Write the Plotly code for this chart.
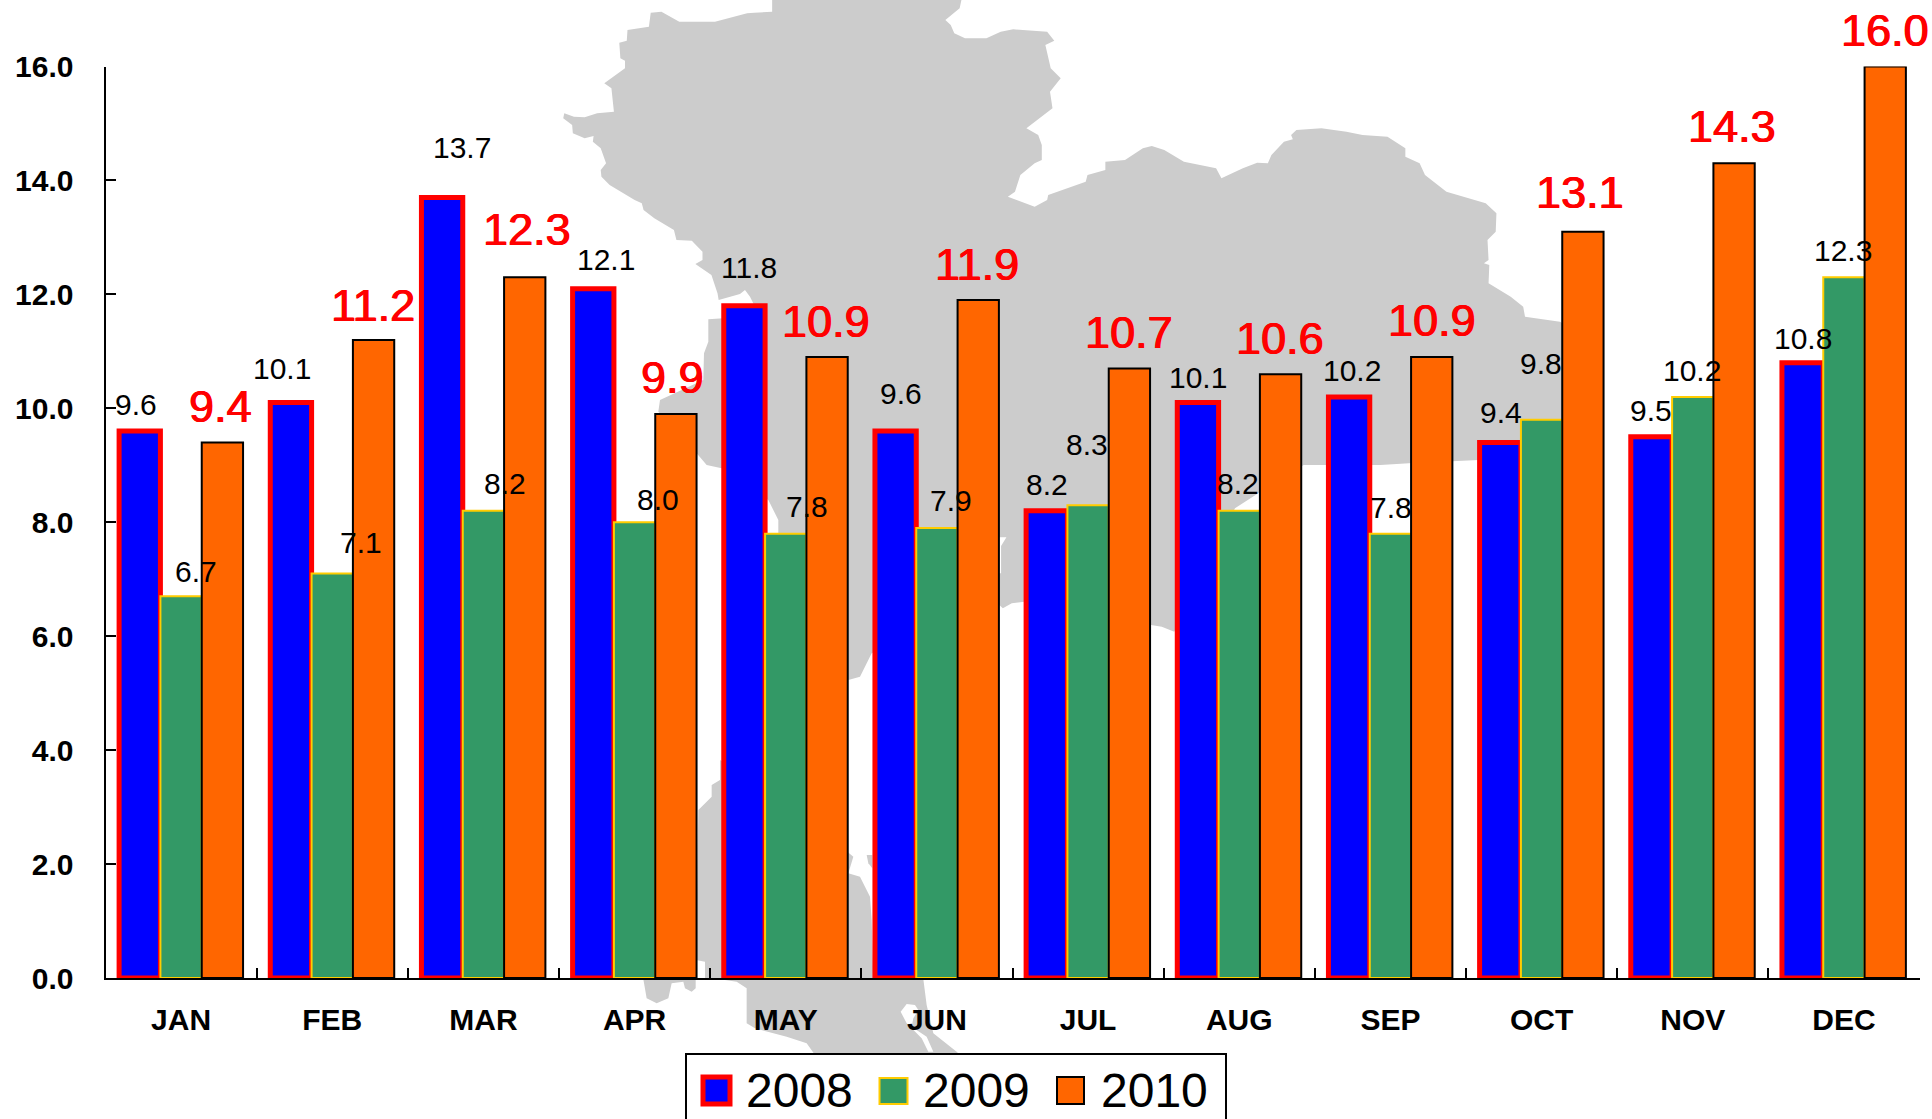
import plotly.graph_objects as go

W, H = 1932, 1119
AX_L, AX_R, AX_T, AX_B = 105.5, 1919.5, 66.5, 978.0

months = ["JAN", "FEB", "MAR", "APR", "MAY", "JUN", "JUL", "AUG", "SEP", "OCT", "NOV", "DEC"]
v2008 = [9.6, 10.1, 13.7, 12.1, 11.8, 9.6, 8.2, 10.1, 10.2, 9.4, 9.5, 10.8]
v2009 = [6.7, 7.1, 8.2, 8.0, 7.8, 7.9, 8.3, 8.2, 7.8, 9.8, 10.2, 12.3]
v2010 = [9.4, 11.2, 12.3, 9.9, 10.9, 11.9, 10.7, 10.6, 10.9, 13.1, 14.3, 16.0]
y_ticks = [0, 2, 4, 6, 8, 10, 12, 14, 16]

# Hand-placed data label centres, measured on the 1568-wide preview
lab2008_x = [110, 229, 375, 492, 608, 731, 850, 972, 1097, 1218, 1340, 1463]
lab2008_y = [328, 299, 120, 211, 217, 319, 393, 306, 301, 335, 333, 275]
lab2009_x = [159, 293, 410, 534, 655, 772, 882, 1005, 1129, 1251, 1373, 1496]
lab2009_y = [464, 440, 392, 405, 411, 406, 361, 392, 412, 295, 301, 203]
lab2010_x = [179, 303, 428, 546, 670, 793, 916, 1039, 1162, 1282, 1406, 1530]
lab2010_y = [330, 248, 186, 306, 261, 215, 270, 275, 260, 156, 103, 25]
PREVIEW = 1932 / 1568

# Background map outline pieces, in zoom-crop coordinates
west = [(650,0),(650,35),(600,38),(580,40),(490,65),(390,65),(340,35),(310,38),(305,80),(245,90),(243,122),(222,128),(225,175),(238,182),(238,205),(180,250),(200,265),(207,335),(160,340),(125,352),(95,350),(68,340),(65,355),(90,375),(92,400),(125,415),(150,408),(148,425),(170,445),(185,490),(170,510),(172,530),(195,555),(265,600),(285,610),(290,630),(320,655),(375,690),(382,720),(425,722),(455,755),(455,780),(435,792),(480,825),(497,880)]
gulf = [(236,60),(300,42),(315,30),(330,50),(345,80),(250,115),(205,118),(205,185),(192,220),(190,300),(60,360),(55,395),(170,520),(200,555),(245,565),(385,660),(415,720),(415,760),(625,1200),(660,1190),(695,1120)]
south1 = [(110,555),(120,565),(145,550),(180,545),(535,615),(565,620),(600,635),(770,265),(835,220)]
south2 = [(850,1095),(1065,1095),(1145,1090),(1340,1080)]
east_hidden = [(1565,425),(1562,323)]
north = [(1568,665),(1470,650),(1465,620),(1430,590),(1368,550),(1370,495),(1355,490),(1368,480),(1365,420),(1388,395),(1390,340),(1360,310),(1250,275),(1190,225),(1175,190),(1135,170),(1135,145),(1085,110),(1015,105),(970,95),(900,85),(830,90),(815,105),(820,118),(795,125),(760,165),(750,190),(720,188),(680,205),(620,235),(605,205),(515,185),(460,150),(425,138),(400,145),(350,180),(295,185),(295,210),(245,225),(240,245),(135,285)]
northeast = [(1420,600),(1385,620),(1310,590),(1330,575),(1345,525),(1385,490),(1405,480),(1405,435),(1395,405),(1362,385),(1435,325),(1428,275),(1458,235),(1430,205),(1415,135),(1440,122),(1420,95),(1325,88),(1290,95),(1250,115),(1190,115),(1160,100),(1150,75),(1135,60),(1175,25),(1180,0)]
isthmus = [(240,210),(240,270),(215,285),(215,320),(175,360),(168,810),(195,815),(195,865),(240,868),(290,875),(320,895),(320,1000),(345,1015),(440,1040),(500,1060),(525,1095),(960,1095),(950,1085),(880,1030),(860,945),(850,868),(700,868),(695,690),(690,620),(675,590),(660,560),(625,550),(640,500),(400,300)]
islet1 = [(10,868),(20,925),(50,940),(85,925),(95,880),(130,875),(135,895),(155,905),(167,895),(167,868)]
islet2 = [(680,495),(697,495),(697,535),(685,520)]
lake = [(782,965),(800,942),(825,945),(835,960),(820,985),(815,1010),(860,1040),(880,1085),(865,1085),(845,1045),(800,1000)]
cut = [(110,352),(130,352),(115,378),(115,460),(110,460)]


def crop(points, x0, y0, sx, sy=3.0):
    return [(x0 + a / sx, y0 + b / sy) for a, b in points]


Z4 = (540, 0, 2.8)
Z5 = (1000, 100, 2.8)
Z6 = (640, 280, 3.0)
Z7 = (640, 690, 3.0)
Z8 = (960, 420, 2.8)

main_outline = (crop(west, *Z4) + crop(gulf, *Z6) + crop(south1, *Z8) + crop(south2, *Z5)
                + east_hidden + crop(north, *Z5) + crop(northeast, *Z4))


def px_path(points):
    return "M" + "L".join(f"{x / W:.5f},{1 - y / H:.5f}" for x, y in points) + "Z"


def box(x0, y0, x1, y1, fill, line, width, layer="above"):
    return dict(type="rect", xref="paper", yref="paper", layer=layer,
                x0=x0 / W, x1=x1 / W, y0=1 - y1 / H, y1=1 - y0 / H,
                fillcolor=fill, line=dict(color=line, width=width))


def blob(points, fill="#CCCCCC"):
    return dict(type="path", xref="paper", yref="paper", layer="below",
                path=px_path(points), fillcolor=fill, line=dict(width=0))


GREY_SHAPES = [blob(main_outline), blob(crop(isthmus, *Z7)), blob(crop(islet1, *Z7)),
               blob(crop(islet2, *Z7)), blob(crop(lake, *Z7), "#FFFFFF"), blob(crop(cut, *Z8), "#FFFFFF")]

LEGEND_SHAPES = [
    box(686, 1054, 1226, 1140, "#FFFFFF", "#000000", 2),
    box(703, 1077, 730, 1104, "#0000FF", "#FF0000", 5),
    box(879.5, 1078, 907.5, 1104, "#339966", "#FFCC00", 2),
    box(1057, 1077, 1084, 1104, "#FF6600", "#000000", 2),
]

fig = go.Figure()
for name, vals, fill, edge, width in [
    ("2008", v2008, "#0000FF", "#FF0000", 5),
    ("2009", v2009, "#339966", "#FFCC00", 2),
    ("2010", v2010, "#FF6600", "#000000", 2),
]:
    fig.add_trace(go.Bar(name=name, x=months, y=vals, marker=dict(color=fill, line=dict(color=edge, width=width))))

cat_w = (AX_R - AX_L) / len(months)
y_px = lambda v: AX_B - (AX_B - AX_T) * v / 16
annotations = []
for vals, xs, ys, color, size, shadow in [
    (v2008, lab2008_x, lab2008_y, "#000000", 30, "none"),
    (v2009, lab2009_x, lab2009_y, "#000000", 30, "none"),
    (v2010, lab2010_x, lab2010_y, "#FF0000", 45, "0.6px 0 0 #FF0000, -0.6px 0 0 #FF0000"),
]:
    for i, v in enumerate(vals):
        cx = AX_L + (i + 0.5) * cat_w
        annotations.append(dict(
            x=months[i], y=v, xref="x", yref="y", text=f"{v:.1f}", showarrow=False,
            xanchor="center", yanchor="middle",
            xshift=xs[i] * PREVIEW - cx, yshift=y_px(v) - ys[i] * PREVIEW,
            font=dict(family="Liberation Sans", size=size, color=color, shadow=shadow)))
for label, cx in [("2008", 799), ("2009", 976), ("2010", 1154)]:
    annotations.append(dict(x=cx / W, y=1 - 1090 / H, xref="paper", yref="paper", text=label,
                            showarrow=False, xanchor="center", yanchor="middle",
                            font=dict(family="Liberation Sans", size=48, color="#000000")))

fig.update_layout(
    width=W, height=H, margin=dict(l=0, r=0, t=0, b=0), autosize=False,
    paper_bgcolor="#FFFFFF", plot_bgcolor="rgba(0,0,0,0)",
    barmode="group", bargap=0.18, bargroupgap=0, showlegend=False,
    shapes=GREY_SHAPES + LEGEND_SHAPES, annotations=annotations,
    xaxis=dict(domain=[AX_L / W, AX_R / W], type="category", categoryorder="array", categoryarray=months,
               automargin=False, range=[-0.5, 11.5],
               tickson="boundaries", ticks="inside", ticklen=10, tickwidth=2, tickcolor="#000000",
               showline=True, linecolor="#000000", linewidth=2, showgrid=False, zeroline=False,
               ticklabelstandoff=14, anchor="y",
               tickfont=dict(family="Liberation Sans", size=30, color="#000000", weight="bold")),
    yaxis=dict(domain=[1 - AX_B / H, 1 - AX_T / H], range=[0, 16], tickvals=y_ticks, tickformat=".1f",
               automargin=False,
               ticks="inside", ticklen=10, tickwidth=2, tickcolor="#000000",
               showline=True, linecolor="#000000", linewidth=2, showgrid=False, zeroline=False,
               ticklabelstandoff=24, anchor="x",
               tickfont=dict(family="Liberation Sans", size=30, color="#000000", weight="bold")),
)

fig.write_html("out.html", config={"displayModeBar": False},
               post_script="document.body.style.margin='0';document.documentElement.style.overflow='hidden';")
